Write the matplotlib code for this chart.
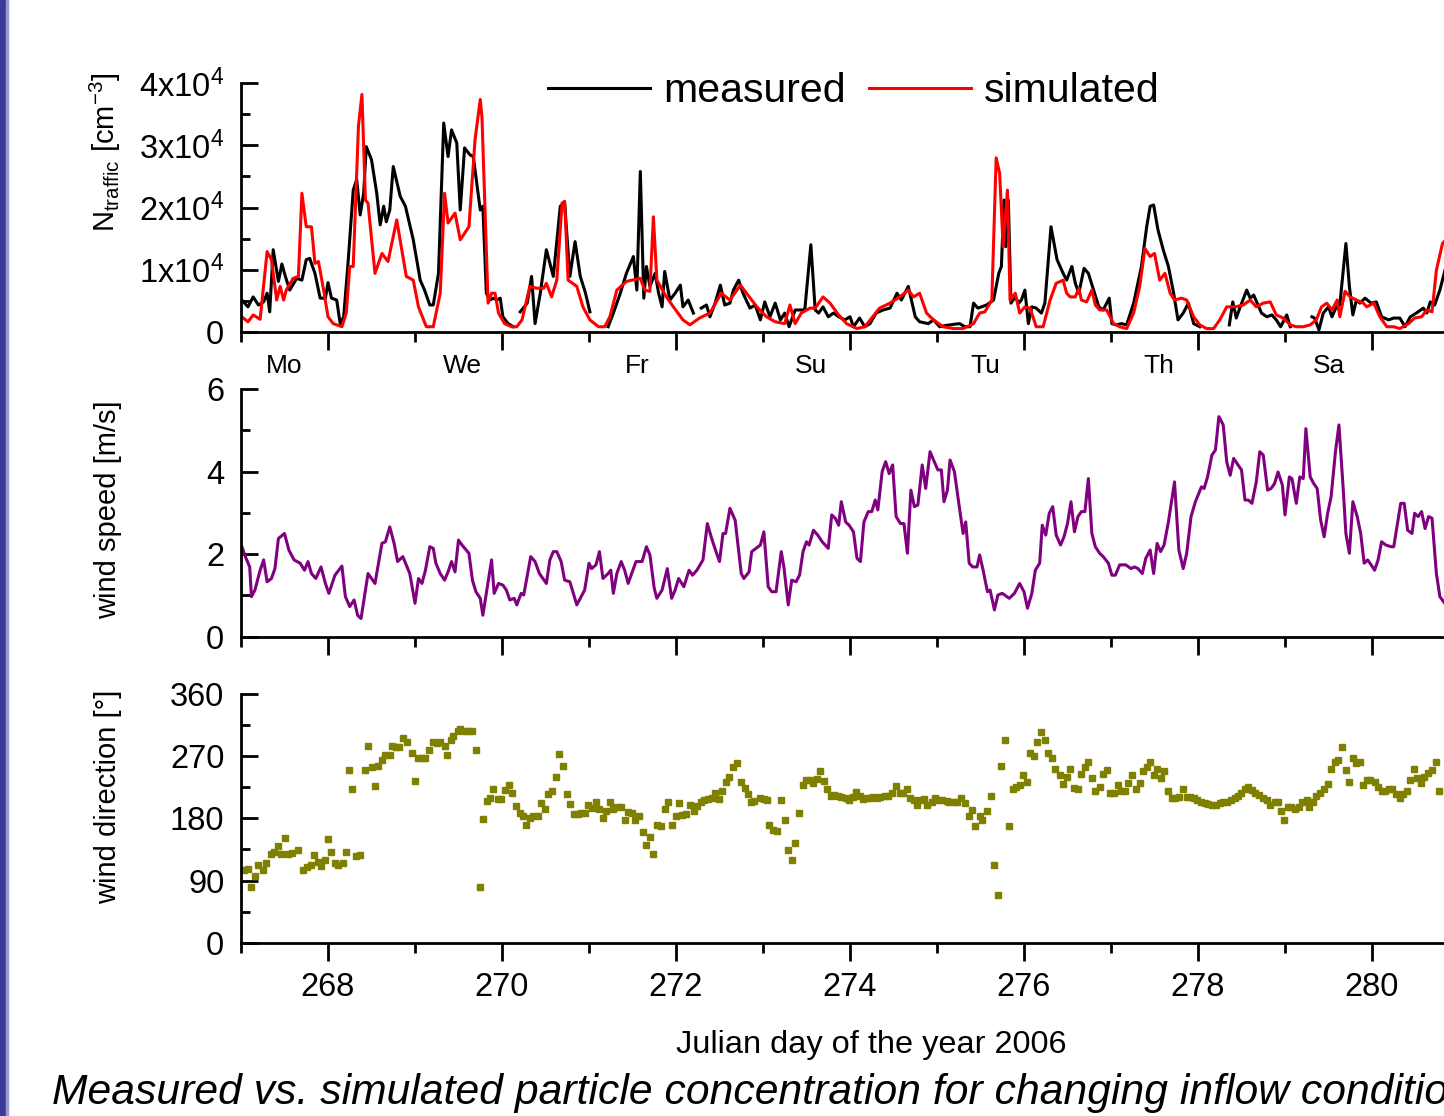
import numpy as np
import matplotlib
matplotlib.use("Agg")
import matplotlib.pyplot as plt
from matplotlib.ticker import MultipleLocator, FuncFormatter
from matplotlib.patches import Rectangle

plt.rcParams['font.family'] = ['Liberation Sans', 'DejaVu Sans']
plt.rcParams['mathtext.default'] = 'regular'

nan = np.nan

# particle number, measured (units of 1e4 cm^-3), NaN = gap in record
meas_day = [267.01, 267.08, 267.14, 267.20, 267.26, 267.30, 267.33, 267.37, 267.43, 267.47,
            267.51, 267.56, 267.64, 267.70, 267.75, 267.79, 267.85, 267.91, 267.97, 268.00,
            268.04, 268.10, 268.14, 268.18, 268.23, 268.29, 268.33, 268.37, 268.41, 268.44,
            268.50, 268.56, 268.60, 268.64, 268.67, 268.71, 268.75, 268.83, 268.89, 268.98,
            269.06, 269.11, 269.17, 269.21, 269.27, 269.33, 269.38, 269.42, 269.48, 269.52,
            269.57, 269.63, 269.67, 269.75, 269.78, 269.82, 269.86, 269.90, 269.94, 269.98,
            270.01, 270.07, 270.13, 270.17, 270.21, 270.29, 270.34, 270.38, 270.44, 270.51,
            270.59, 270.67, 270.72, 270.78, 270.84, 270.90, 270.96, 271.01, 271.12, 271.22,
            271.28, 271.36, 271.43, 271.51, 271.55, 271.59, 271.63, 271.66, 271.70, 271.76,
            271.80, 271.84, 271.87, 271.93, 271.99, 272.05, 272.08, 272.14, 272.20, 272.25,
            272.29, 272.35, 272.39, 272.45, 272.51, 272.56, 272.62, 272.66, 272.72, 272.77,
            272.85, 272.91, 272.97, 273.02, 273.08, 273.14, 273.20, 273.25, 273.30, 273.37,
            273.42, 273.48, 273.55, 273.60, 273.64, 273.69, 273.75, 273.81, 273.87, 273.94,
            274.00, 274.04, 274.11, 274.17, 274.23, 274.30, 274.38, 274.46, 274.54, 274.59,
            274.67, 274.75, 274.80, 274.90, 274.96, 275.03, 275.10, 275.20, 275.26, 275.32,
            275.38, 275.42, 275.47, 275.57, 275.65, 275.71, 275.74, 275.77, 275.79, 275.82,
            275.85, 275.90, 275.94, 275.97, 276.01, 276.05, 276.09, 276.14, 276.20, 276.24,
            276.31, 276.38, 276.45, 276.49, 276.55, 276.59, 276.63, 276.69, 276.74, 276.80,
            276.86, 276.91, 276.98, 277.01, 277.06, 277.12, 277.18, 277.26, 277.35, 277.41,
            277.45, 277.49, 277.54, 277.60, 277.66, 277.72, 277.77, 277.83, 277.89, 277.95,
            278.02, 278.20, 278.36, 278.40, 278.44, 278.48, 278.56, 278.60, 278.64, 278.69,
            278.73, 278.79, 278.85, 278.90, 278.95, 279.02, 279.06, 279.20, 279.31, 279.34,
            279.39, 279.44, 279.50, 279.54, 279.59, 279.63, 279.70, 279.74, 279.78, 279.82,
            279.86, 279.92, 279.99, 280.05, 280.11, 280.19, 280.25, 280.32, 280.38, 280.44,
            280.51, 280.59, 280.63, 280.67, 280.72, 280.78, 280.82, 280.86]
meas_n = [0.51, 0.40, 0.56, 0.43, 0.48, 0.62, 0.32, 1.32, 0.81, 1.09,
          0.89, 0.67, 0.86, 0.83, 1.16, 1.18, 0.94, 0.54, 0.54, 0.79,
          0.54, 0.51, 0.13, 0.24, 1.10, 2.28, 2.45, 1.88, 2.23, 2.98,
          2.77, 2.23, 1.72, 2.02, 1.77, 1.96, 2.66, 2.18, 2.02, 1.48,
          0.83, 0.67, 0.43, 0.43, 0.94, 3.36, 2.82, 3.25, 3.04, 1.96,
          2.96, 2.85, 2.82, 1.96, 2.02, 0.62, 0.51, 0.54, 0.51, 0.54,
          0.24, 0.13, 0.08, nan, 0.32, 0.46, 0.89, 0.13, 0.62, 1.32,
          0.89, 2.02, 2.07, 0.89, 1.45, 0.89, 0.62, 0.32, nan, 0.08,
          0.30, 0.62, 0.94, 1.21, 0.67, 2.58, 0.54, 1.05, 0.73, 0.94,
          0.62, 0.40, 0.97, 0.51, 0.62, 0.75, 0.40, 0.51, 0.30, nan,
          0.38, 0.43, 0.24, 0.46, 0.75, 0.43, 0.46, 0.67, 0.83, 0.62,
          0.38, 0.43, 0.19, 0.48, 0.24, 0.46, 0.19, 0.30, 0.08, 0.35,
          0.35, 0.35, 1.40, 0.35, 0.30, 0.40, 0.24, 0.30, 0.24, 0.19,
          0.24, 0.08, 0.22, 0.08, 0.13, 0.30, 0.35, 0.38, 0.62, 0.51,
          0.73, 0.24, 0.16, 0.13, 0.19, 0.08, 0.10, 0.12, 0.13, 0.08,
          0.08, 0.46, 0.38, 0.43, 0.51, 0.94, 1.05, 2.12, 1.37, 2.12,
          0.46, 0.56, 0.46, 0.51, 0.67, 0.13, 0.40, 0.38, 0.30, 0.46,
          1.69, 1.16, 0.94, 0.83, 1.05, 0.78, 0.62, 1.02, 0.94, 0.67,
          0.40, 0.35, 0.54, 0.13, 0.11, 0.13, 0.11, 0.46, 1.05, 1.69,
          2.02, 2.04, 1.64, 1.32, 1.05, 0.62, 0.19, 0.30, 0.46, 0.13,
          0.08, nan, 0.11, 0.48, 0.22, 0.38, 0.67, 0.54, 0.59, 0.43,
          0.30, 0.24, 0.27, 0.19, 0.08, 0.27, 0.08, nan, 0.24, 0.22,
          0.03, 0.30, 0.40, 0.24, 0.40, 0.43, 1.42, 0.73, 0.27, 0.51,
          0.46, 0.54, 0.46, 0.48, 0.24, 0.19, 0.22, 0.22, 0.08, 0.24,
          0.30, 0.38, 0.30, 0.48, 0.43, 0.67, 0.89, 1.10]

# particle number, simulated (units of 1e4 cm^-3)
sim_day = [267.01, 267.08, 267.14, 267.22, 267.30, 267.35, 267.41, 267.45, 267.49, 267.52,
           267.60, 267.66, 267.70, 267.75, 267.81, 267.85, 267.89, 267.95, 268.00, 268.06,
           268.16, 268.21, 268.25, 268.29, 268.35, 268.39, 268.43, 268.46, 268.54, 268.62,
           268.69, 268.79, 268.90, 268.98, 269.04, 269.13, 269.21, 269.29, 269.34, 269.38,
           269.46, 269.52, 269.62, 269.69, 269.75, 269.77, 269.84, 269.88, 269.92, 269.96,
           270.03, 270.11, 270.17, 270.23, 270.32, 270.40, 270.48, 270.51, 270.57, 270.63,
           270.69, 270.72, 270.76, 270.86, 270.93, 271.01, 271.11, 271.18, 271.24, 271.32,
           271.43, 271.59, 271.64, 271.70, 271.74, 271.78, 271.89, 271.97, 272.08, 272.16,
           272.27, 272.39, 272.52, 272.62, 272.74, 272.81, 272.93, 273.04, 273.14, 273.25,
           273.31, 273.37, 273.44, 273.54, 273.60, 273.69, 273.77, 273.87, 273.96, 274.08,
           274.17, 274.25, 274.34, 274.46, 274.57, 274.67, 274.73, 274.80, 274.88, 274.96,
           275.07, 275.19, 275.30, 275.42, 275.49, 275.55, 275.63, 275.68, 275.72, 275.76,
           275.81, 275.84, 275.90, 275.95, 276.01, 276.07, 276.14, 276.22, 276.30, 276.37,
           276.45, 276.49, 276.53, 276.59, 276.63, 276.66, 276.72, 276.78, 276.82, 276.87,
           276.95, 277.03, 277.10, 277.18, 277.26, 277.33, 277.39, 277.45, 277.50, 277.56,
           277.62, 277.68, 277.73, 277.81, 277.87, 277.95, 278.02, 278.10, 278.18, 278.25,
           278.33, 278.43, 278.52, 278.60, 278.67, 278.75, 278.83, 278.90, 278.98, 279.06,
           279.13, 279.21, 279.29, 279.36, 279.42, 279.48, 279.54, 279.60, 279.63, 279.69,
           279.75, 279.82, 279.90, 279.94, 280.02, 280.09, 280.17, 280.25, 280.32, 280.42,
           280.49, 280.57, 280.63, 280.69, 280.74, 280.81, 280.86]
sim_n = [0.24, 0.16, 0.27, 0.20, 1.29, 1.16, 0.51, 0.73, 0.51, 0.67,
         0.86, 0.89, 2.23, 1.69, 1.69, 1.10, 1.13, 0.67, 0.24, 0.13,
         0.08, 0.30, 1.05, 1.05, 3.31, 3.82, 2.12, 2.07, 0.94, 1.26,
         1.13, 1.80, 0.89, 0.83, 0.40, 0.08, 0.08, 0.62, 2.23, 1.75,
         1.91, 1.48, 1.69, 3.09, 3.74, 3.45, 0.46, 0.62, 0.62, 0.30,
         0.13, 0.08, 0.08, 0.19, 0.73, 0.70, 0.70, 0.78, 0.56, 0.83,
         2.07, 2.10, 0.83, 0.73, 0.40, 0.19, 0.08, 0.08, 0.24, 0.67,
         0.81, 0.86, 0.67, 0.65, 1.85, 0.83, 0.56, 0.40, 0.19, 0.11,
         0.22, 0.30, 0.62, 0.51, 0.75, 0.62, 0.40, 0.24, 0.16, 0.13,
         0.43, 0.13, 0.30, 0.38, 0.38, 0.56, 0.46, 0.27, 0.13, 0.05,
         0.08, 0.22, 0.38, 0.46, 0.56, 0.67, 0.56, 0.62, 0.30, 0.19,
         0.08, 0.05, 0.05, 0.13, 0.30, 0.32, 0.51, 2.80, 2.55, 1.37,
         2.28, 0.51, 0.62, 0.30, 0.40, 0.38, 0.08, 0.08, 0.51, 0.78,
         0.83, 0.62, 0.56, 0.56, 0.70, 0.51, 0.48, 0.67, 0.43, 0.35,
         0.35, 0.13, 0.08, 0.05, 0.30, 0.73, 1.34, 1.21, 1.26, 0.83,
         0.94, 0.62, 0.51, 0.54, 0.51, 0.24, 0.11, 0.05, 0.05, 0.19,
         0.40, 0.40, 0.43, 0.51, 0.40, 0.46, 0.48, 0.27, 0.22, 0.11,
         0.08, 0.08, 0.11, 0.19, 0.40, 0.46, 0.35, 0.51, 0.24, 0.65,
         0.56, 0.51, 0.46, 0.40, 0.46, 0.24, 0.08, 0.08, 0.05, 0.13,
         0.22, 0.24, 0.35, 0.32, 0.99, 1.42, 1.50]

# wind speed [m/s]
ws_day = [267.01, 267.05, 267.10, 267.12, 267.16, 267.22, 267.26, 267.30, 267.35, 267.39,
          267.43, 267.50, 267.55, 267.61, 267.68, 267.73, 267.77, 267.81, 267.86, 267.92,
          267.97, 268.01, 268.08, 268.16, 268.20, 268.25, 268.30, 268.34, 268.38, 268.46,
          268.54, 268.62, 268.66, 268.71, 268.76, 268.80, 268.86, 268.94, 269.00, 269.04,
          269.08, 269.12, 269.17, 269.21, 269.24, 269.29, 269.34, 269.38, 269.42, 269.46,
          269.50, 269.54, 269.62, 269.66, 269.70, 269.75, 269.78, 269.88, 269.91, 269.96,
          270.01, 270.05, 270.09, 270.14, 270.17, 270.22, 270.25, 270.33, 270.38, 270.43,
          270.51, 270.55, 270.59, 270.63, 270.68, 270.72, 270.78, 270.86, 270.95, 271.00,
          271.03, 271.08, 271.12, 271.16, 271.22, 271.25, 271.28, 271.32, 271.37, 271.41,
          271.45, 271.54, 271.61, 271.66, 271.70, 271.75, 271.78, 271.84, 271.90, 271.95,
          271.99, 272.03, 272.09, 272.15, 272.19, 272.24, 272.31, 272.36, 272.41, 272.46,
          272.50, 272.54, 272.57, 272.62, 272.68, 272.75, 272.78, 272.84, 272.87, 272.97,
          273.01, 273.06, 273.10, 273.15, 273.21, 273.24, 273.29, 273.33, 273.38, 273.42,
          273.46, 273.50, 273.53, 273.58, 273.63, 273.68, 273.75, 273.79, 273.83, 273.87,
          273.90, 273.95, 273.99, 274.04, 274.08, 274.12, 274.16, 274.21, 274.25, 274.29,
          274.32, 274.37, 274.41, 274.45, 274.49, 274.53, 274.58, 274.62, 274.66, 274.70,
          274.74, 274.78, 274.83, 274.87, 274.92, 274.96, 275.01, 275.05, 275.08, 275.12,
          275.15, 275.20, 275.24, 275.30, 275.33, 275.37, 275.41, 275.46, 275.49, 275.53,
          275.58, 275.61, 275.66, 275.70, 275.75, 275.83, 275.89, 275.95, 276.00, 276.04,
          276.09, 276.13, 276.18, 276.21, 276.25, 276.29, 276.33, 276.37, 276.42, 276.46,
          276.50, 276.54, 276.58, 276.62, 276.66, 276.70, 276.74, 276.78, 276.82, 276.87,
          276.91, 276.97, 277.01, 277.05, 277.10, 277.17, 277.23, 277.27, 277.31, 277.36,
          277.40, 277.45, 277.49, 277.53, 277.57, 277.61, 277.66, 277.73, 277.78, 277.83,
          277.87, 277.92, 277.97, 278.04, 278.07, 278.11, 278.16, 278.20, 278.24, 278.29,
          278.33, 278.37, 278.41, 278.46, 278.50, 278.54, 278.58, 278.62, 278.67, 278.71,
          278.75, 278.80, 278.84, 278.88, 278.92, 278.97, 279.00, 279.05, 279.08, 279.13,
          279.17, 279.21, 279.24, 279.29, 279.33, 279.37, 279.41, 279.45, 279.49, 279.53,
          279.58, 279.62, 279.67, 279.70, 279.74, 279.78, 279.83, 279.87, 279.91, 279.95,
          279.99, 280.03, 280.07, 280.11, 280.16, 280.22, 280.25, 280.29, 280.33, 280.37,
          280.41, 280.46, 280.49, 280.53, 280.57, 280.61, 280.65, 280.69, 280.74, 280.78,
          280.84]
ws = [2.18, 1.94, 1.69, 0.97, 1.13, 1.61, 1.86, 1.33, 1.41, 1.65,
      2.38, 2.50, 2.10, 1.86, 1.78, 1.61, 1.82, 1.53, 1.41, 1.69,
      1.29, 1.05, 1.49, 1.71, 0.97, 0.73, 0.89, 0.52, 0.44, 1.53,
      1.29, 2.26, 2.30, 2.66, 2.26, 1.82, 1.94, 1.53, 0.81, 1.41,
      1.29, 1.61, 2.18, 2.14, 1.78, 1.53, 1.37, 1.57, 1.82, 1.57,
      2.34, 2.22, 2.02, 1.37, 1.09, 0.93, 0.52, 1.86, 1.05, 1.29,
      1.25, 1.13, 0.89, 0.93, 0.77, 1.05, 1.01, 1.94, 1.82, 1.53,
      1.29, 1.86, 2.06, 2.06, 1.82, 1.37, 1.33, 0.77, 1.13, 1.78,
      1.65, 1.74, 2.06, 1.41, 1.53, 1.61, 1.05, 1.53, 1.82, 1.61,
      1.29, 1.82, 1.82, 2.18, 1.98, 1.17, 0.93, 1.13, 1.65, 0.93,
      1.13, 1.41, 1.21, 1.61, 1.49, 1.61, 1.86, 2.74, 2.38, 2.06,
      1.82, 2.50, 2.50, 3.11, 2.82, 1.53, 1.41, 1.57, 2.06, 2.22,
      2.54, 1.21, 1.09, 1.09, 2.06, 1.69, 0.77, 1.37, 1.33, 1.49,
      2.06, 2.30, 2.22, 2.58, 2.46, 2.30, 2.14, 2.95, 2.87, 2.70,
      3.27, 2.78, 2.70, 2.54, 1.90, 1.82, 2.78, 3.03, 3.03, 3.31,
      3.07, 4.00, 4.24, 3.95, 4.16, 2.91, 2.74, 2.74, 2.02, 3.55,
      3.15, 3.19, 4.16, 3.59, 4.48, 4.28, 4.04, 4.04, 3.27, 3.55,
      4.28, 4.00, 3.39, 2.50, 2.78, 1.78, 1.69, 1.69, 1.98, 1.61,
      1.09, 1.13, 0.65, 1.01, 1.05, 0.93, 1.05, 1.29, 1.09, 0.69,
      1.05, 1.61, 1.78, 2.70, 2.46, 2.99, 3.15, 2.46, 2.22, 2.42,
      2.74, 3.27, 2.54, 2.91, 3.03, 3.03, 3.83, 2.50, 2.18, 2.02,
      1.94, 1.78, 1.49, 1.49, 1.74, 1.74, 1.65, 1.69, 1.65, 1.53,
      1.90, 2.10, 1.53, 2.26, 2.06, 2.22, 2.78, 3.75, 2.10, 1.65,
      2.02, 2.91, 3.27, 3.63, 3.59, 3.87, 4.40, 4.52, 5.33, 5.13,
      4.24, 3.91, 4.32, 4.16, 4.04, 3.31, 3.31, 3.23, 3.75, 4.48,
      4.40, 3.55, 3.59, 3.71, 3.99, 3.67, 2.95, 3.87, 3.83, 3.23,
      3.87, 3.83, 5.04, 3.87, 3.71, 3.59, 2.82, 2.42, 2.99, 3.39,
      4.48, 5.13, 3.55, 2.50, 2.02, 3.27, 2.91, 2.50, 1.78, 1.86,
      1.74, 1.61, 1.86, 2.30, 2.22, 2.18, 2.18, 2.70, 3.23, 3.23,
      2.58, 2.50, 2.99, 2.91, 3.03, 2.62, 2.91, 2.87, 1.53, 0.97,
      0.80]

# wind direction [deg]
wd_day = [267.03, 267.08, 267.12, 267.16, 267.20, 267.25, 267.29, 267.34, 267.38, 267.42,
          267.46, 267.50, 267.54, 267.59, 267.65, 267.71, 267.76, 267.80, 267.84, 267.88,
          267.92, 267.96, 268.00, 268.04, 268.08, 268.12, 268.17, 268.21, 268.24, 268.28,
          268.32, 268.37, 268.42, 268.46, 268.50, 268.54, 268.58, 268.62, 268.66, 268.71,
          268.74, 268.78, 268.82, 268.86, 268.91, 268.96, 269.00, 269.03, 269.08, 269.12,
          269.16, 269.21, 269.25, 269.29, 269.34, 269.37, 269.41, 269.44, 269.49, 269.52,
          269.57, 269.61, 269.66, 269.70, 269.75, 269.78, 269.83, 269.86, 269.90, 269.95,
          269.99, 270.04, 270.08, 270.12, 270.16, 270.21, 270.24, 270.28, 270.32, 270.36,
          270.41, 270.45, 270.49, 270.53, 270.57, 270.62, 270.66, 270.70, 270.75, 270.78,
          270.83, 270.87, 270.91, 270.95, 270.99, 271.04, 271.08, 271.12, 271.16, 271.20,
          271.24, 271.28, 271.32, 271.37, 271.41, 271.45, 271.49, 271.53, 271.58, 271.62,
          271.66, 271.70, 271.74, 271.78, 271.83, 271.87, 271.91, 271.95, 272.00, 272.03,
          272.07, 272.12, 272.16, 272.21, 272.24, 272.29, 272.32, 272.37, 272.41, 272.45,
          272.49, 272.53, 272.57, 272.61, 272.66, 272.70, 272.75, 272.79, 272.83, 272.86,
          272.90, 272.96, 273.01, 273.05, 273.07, 273.12, 273.16, 273.21, 273.25, 273.29,
          273.33, 273.37, 273.41, 273.46, 273.50, 273.54, 273.58, 273.62, 273.66, 273.70,
          273.74, 273.78, 273.82, 273.86, 273.90, 273.95, 273.99, 274.03, 274.07, 274.11,
          274.15, 274.19, 274.23, 274.27, 274.31, 274.35, 274.40, 274.44, 274.48, 274.53,
          274.57, 274.61, 274.65, 274.69, 274.73, 274.77, 274.81, 274.85, 274.89, 274.94,
          274.98, 275.02, 275.06, 275.11, 275.14, 275.19, 275.23, 275.28, 275.32, 275.37,
          275.40, 275.44, 275.49, 275.52, 275.57, 275.62, 275.66, 275.70, 275.74, 275.78,
          275.83, 275.87, 275.91, 275.95, 275.99, 276.03, 276.07, 276.11, 276.15, 276.20,
          276.24, 276.28, 276.32, 276.36, 276.41, 276.45, 276.49, 276.53, 276.57, 276.62,
          276.66, 276.70, 276.74, 276.78, 276.82, 276.87, 276.91, 276.95, 276.99, 277.04,
          277.08, 277.12, 277.16, 277.20, 277.24, 277.29, 277.33, 277.37, 277.41, 277.45,
          277.49, 277.53, 277.57, 277.61, 277.66, 277.70, 277.74, 277.78, 277.83, 277.87,
          277.91, 277.95, 277.99, 278.04, 278.08, 278.12, 278.16, 278.21, 278.25, 278.29,
          278.33, 278.38, 278.42, 278.46, 278.50, 278.54, 278.57, 278.62, 278.66, 278.70,
          278.75, 278.79, 278.83, 278.88, 278.92, 278.95, 278.99, 279.03, 279.07, 279.12,
          279.16, 279.20, 279.25, 279.28, 279.32, 279.36, 279.40, 279.45, 279.49, 279.53,
          279.57, 279.61, 279.66, 279.70, 279.74, 279.78, 279.82, 279.86, 279.90, 279.94,
          279.98, 280.03, 280.07, 280.11, 280.15, 280.19, 280.23, 280.28, 280.32, 280.36,
          280.40, 280.44, 280.48, 280.52, 280.56, 280.60, 280.64, 280.69, 280.73, 280.77]
wd = [105, 106, 81, 97, 112, 105, 116, 129, 132, 140,
      128, 151, 129, 130, 134, 105, 110, 113, 127, 117,
      111, 120, 150, 132, 115, 113, 115, 132, 250, 222,
      125, 127, 250, 285, 255, 227, 256, 265, 272, 272,
      285, 284, 284, 296, 291, 275, 234, 268, 267, 268,
      279, 291, 289, 290, 285, 272, 293, 299, 306, 310,
      306, 306, 307, 279, 81, 179, 205, 210, 223, 208,
      208, 221, 228, 217, 198, 188, 183, 170, 180, 184,
      184, 202, 193, 215, 219, 240, 273, 256, 215, 201,
      187, 187, 188, 188, 199, 195, 204, 193, 180, 190,
      203, 193, 197, 196, 178, 189, 188, 178, 184, 160,
      142, 153, 128, 170, 169, 194, 203, 171, 183, 202,
      185, 187, 199, 191, 198, 204, 207, 208, 209, 217,
      208, 219, 232, 240, 255, 260, 232, 224, 215, 204,
      205, 210, 208, 207, 170, 163, 161, 206, 177, 134,
      120, 145, 188, 228, 236, 235, 231, 237, 249, 234,
      222, 212, 214, 212, 211, 209, 207, 211, 218, 212,
      208, 209, 210, 211, 210, 211, 212, 213, 216, 227,
      217, 217, 222, 209, 207, 199, 207, 208, 199, 204,
      210, 207, 207, 205, 204, 203, 204, 210, 202, 183,
      192, 169, 184, 178, 190, 212, 112, 69, 256, 294,
      169, 222, 226, 228, 243, 233, 274, 270, 291, 305,
      293, 275, 267, 252, 243, 230, 240, 251, 224, 223,
      244, 254, 261, 239, 219, 225, 244, 250, 216, 217,
      228, 219, 220, 231, 243, 223, 231, 249, 255, 262,
      243, 251, 239, 249, 220, 210, 209, 211, 222, 211,
      211, 209, 206, 203, 202, 201, 200, 200, 202, 203,
      204, 207, 209, 212, 217, 222, 226, 221, 217, 214,
      209, 206, 200, 204, 203, 191, 178, 196, 196, 193,
      197, 204, 206, 196, 204, 212, 216, 222, 230, 252,
      262, 264, 284, 250, 232, 268, 260, 262, 228, 236,
      236, 232, 225, 220, 220, 222, 223, 215, 210, 215,
      219, 236, 252, 238, 231, 240, 245, 250, 261, 219]

day_names = ['Mo', 'We', 'Fr', 'Su', 'Tu', 'Th', 'Sa']
day_name_pos = [267.5, 269.55, 271.55, 273.55, 275.55, 277.55, 279.5]

W, H = 1444, 1116
fig = plt.figure(figsize=(W / 100, H / 100), dpi=100)

left = 241 / W
width = 1 - left
xmin, xmax = 267.0, 267.0 + (W - 241) / 87.0

def px_axes(top, bottom):
    return fig.add_axes([left, 1 - bottom / H, width, (bottom - top) / H])

ax1 = px_axes(83.3, 331.7)
ax2 = px_axes(389.0, 636.7)
ax3 = px_axes(694.0, 942.7)

lw = 2.2
l_meas, = ax1.plot(meas_day, np.array(meas_n) * 1e4, color='black', lw=lw, label='measured')
l_sim, = ax1.plot(sim_day, np.array(sim_n) * 1e4, color='#ff0000', lw=lw, label='simulated')
ax2.plot(ws_day, ws, color='#800080', lw=lw)
ax3.plot(wd_day, wd, ls='none', marker='s', ms=5, color='#808000', mec='#808000')

ax1.set_ylim(0, 4e4)
ax2.set_ylim(0, 6)
ax3.set_ylim(0, 360)
ax1.yaxis.set_major_locator(MultipleLocator(1e4))
ax1.yaxis.set_minor_locator(MultipleLocator(5e3))
ax2.yaxis.set_major_locator(MultipleLocator(2))
ax2.yaxis.set_minor_locator(MultipleLocator(1))
ax3.yaxis.set_major_locator(MultipleLocator(90))
ax3.yaxis.set_minor_locator(MultipleLocator(45))

def sci_fmt(v, pos):
    if v == 0:
        return '0'
    return r'%dx10$^{4}$' % round(v / 1e4)

ax1.yaxis.set_major_formatter(FuncFormatter(sci_fmt))

for ax in (ax1, ax2, ax3):
    ax.set_xlim(xmin, xmax)
    ax.xaxis.set_major_locator(MultipleLocator(2))
    ax.xaxis.set_minor_locator(MultipleLocator(1))
    for s in ('top', 'right'):
        ax.spines[s].set_visible(False)
    for s in ('left', 'bottom'):
        ax.spines[s].set_linewidth(2.0)
    ax.tick_params(axis='y', which='major', direction='in', length=12, width=2,
                   labelsize=23.5, pad=12)
    ax.tick_params(axis='y', which='minor', direction='in', length=6.5, width=2)
    ax.tick_params(axis='x', which='major', direction='out', length=13, width=2,
                   labelsize=23.5, pad=8)
    ax.tick_params(axis='x', which='minor', direction='out', length=7, width=2)
    ax.patch.set_alpha(0)

ax1.tick_params(axis='x', labelbottom=False)
ax2.tick_params(axis='x', labelbottom=False)
ax3.xaxis.set_major_formatter(FuncFormatter(lambda v, p: '%d' % v))

for name, pos in zip(day_names, day_name_pos):
    ax1.text(pos, -0.138, name, transform=ax1.get_xaxis_transform(),
             ha='center', va='center', fontsize=19)

fig.text(105 / W, 1 - 152 / H, r'N$_{traffic}$ [cm$^{-3}$]', rotation=90,
         ha='center', va='center', fontsize=21)
fig.text(108 / W, 1 - 510 / H, 'wind speed [m/s]', rotation=90,
         ha='center', va='center', fontsize=21)
fig.text(108 / W, 1 - 797 / H, 'wind direction [\u00b0]', rotation=90,
         ha='center', va='center', fontsize=21)

fig.text(871 / W, 1 - 1045 / H, 'Julian day of the year 2006',
         ha='center', va='center', fontsize=23.4)
fig.text(52 / W, 1 - 1093 / H,
         'Measured vs. simulated particle concentration for changing inflow conditions',
         ha='left', va='center', fontsize=30.7, style='italic')

leg = ax1.legend(handles=[l_meas, l_sim], ncol=2, loc='center left',
                 bbox_to_anchor=(548 / W, 1 - 91 / H), bbox_transform=fig.transFigure,
                 frameon=False, fontsize=29.5, borderpad=0, borderaxespad=0,
                 handlelength=2.49, handletextpad=0.32, columnspacing=0.56)

# blue slide margin on the left
fig.patches.append(Rectangle((0, 0), 6 / W, 1, transform=fig.transFigure,
                             color='#3a3a9a', zorder=5))
fig.patches.append(Rectangle((6 / W, 0), 1.5 / W, 1, transform=fig.transFigure,
                             color='#9a9acc', zorder=5))

fig.savefig('out.png', dpi=100)
